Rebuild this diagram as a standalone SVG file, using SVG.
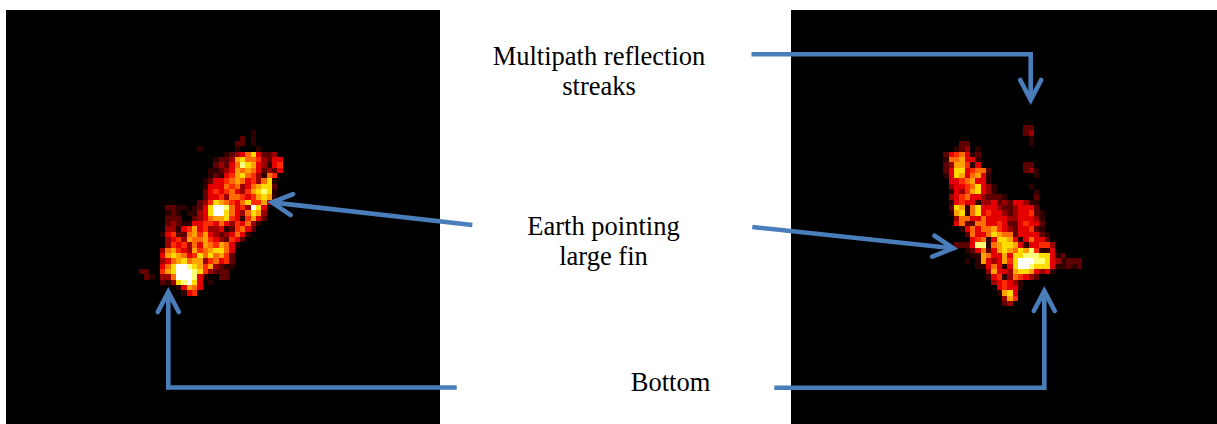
<svg xmlns="http://www.w3.org/2000/svg" width="1217" height="424" viewBox="0 0 1217 424">
<style>
.lbl{font-family:"Liberation Serif","Times New Roman",serif;font-size:26.5px;fill:#000;text-anchor:middle}
.conn{fill:none;stroke:#4a7ebb;stroke-width:4.6;stroke-linejoin:miter}
.hm rect{shape-rendering:crispEdges}
.a{fill:#2e0000}.b{fill:#5e0000}.c{fill:#9a0000}.d{fill:#e40000}.e{fill:#ff2c00}.f{fill:#ff6c00}.g{fill:#ffa200}.h{fill:#ffdc00}.i{fill:#ffff78}.w{fill:#ffffff}
</style>
<defs>
<marker id="open" markerUnits="userSpaceOnUse" refX="0" refY="0" orient="auto" overflow="visible" markerWidth="1" markerHeight="1">
<path d="M-20,-10.5 L0,0 L-20,10.5" fill="none" stroke="#4a7ebb" stroke-width="4.6" stroke-linecap="round" stroke-linejoin="miter"/>
</marker>
</defs>
<rect width="1217" height="424" fill="#fff"/>
<g id="image-left">
<rect x="6" y="10" width="434" height="414" fill="#000"/>
<g class="hm" transform="translate(122.67,125) scale(5.333)">
<rect x="24" y="1" width="1" height="1" class="a"/>
<rect x="22" y="2" width="1" height="1" class="b"/><rect x="24" y="2" width="1" height="1" class="a"/>
<rect x="21" y="3" width="2" height="1" class="b"/><rect x="24" y="3" width="1" height="1" class="a"/>
<rect x="14" y="4" width="1" height="1" class="a"/><rect x="21" y="4" width="1" height="1" class="a"/><rect x="25" y="4" width="1" height="1" class="a"/>
<rect x="19" y="5" width="1" height="1" class="a"/><rect x="20" y="5" width="1" height="1" class="b"/><rect x="21" y="5" width="1" height="1" class="c"/><rect x="22" y="5" width="1" height="1" class="d"/><rect x="23" y="5" width="1" height="1" class="f"/><rect x="24" y="5" width="1" height="1" class="h"/><rect x="25" y="5" width="1" height="1" class="d"/><rect x="26" y="5" width="2" height="1" class="b"/><rect x="28" y="5" width="1" height="1" class="c"/>
<rect x="17" y="6" width="1" height="1" class="a"/><rect x="18" y="6" width="2" height="1" class="b"/><rect x="20" y="6" width="1" height="1" class="c"/><rect x="21" y="6" width="1" height="1" class="g"/><rect x="22" y="6" width="1" height="1" class="h"/><rect x="23" y="6" width="2" height="1" class="f"/><rect x="25" y="6" width="1" height="1" class="e"/><rect x="26" y="6" width="1" height="1" class="c"/><rect x="27" y="6" width="1" height="1" class="b"/><rect x="28" y="6" width="2" height="1" class="d"/>
<rect x="17" y="7" width="1" height="1" class="b"/><rect x="18" y="7" width="1" height="1" class="c"/><rect x="19" y="7" width="1" height="1" class="b"/><rect x="20" y="7" width="1" height="1" class="d"/><rect x="21" y="7" width="1" height="1" class="f"/><rect x="22" y="7" width="1" height="1" class="i"/><rect x="23" y="7" width="1" height="1" class="h"/><rect x="24" y="7" width="1" height="1" class="g"/><rect x="25" y="7" width="1" height="1" class="d"/><rect x="26" y="7" width="1" height="1" class="c"/><rect x="27" y="7" width="1" height="1" class="a"/><rect x="28" y="7" width="1" height="1" class="d"/><rect x="29" y="7" width="1" height="1" class="e"/>
<rect x="16" y="8" width="2" height="1" class="a"/><rect x="18" y="8" width="1" height="1" class="b"/><rect x="19" y="8" width="1" height="1" class="c"/><rect x="20" y="8" width="1" height="1" class="d"/><rect x="21" y="8" width="1" height="1" class="g"/><rect x="22" y="8" width="1" height="1" class="f"/><rect x="23" y="8" width="1" height="1" class="g"/><rect x="24" y="8" width="1" height="1" class="f"/><rect x="25" y="8" width="1" height="1" class="d"/><rect x="26" y="8" width="1" height="1" class="b"/><rect x="27" y="8" width="1" height="1" class="c"/><rect x="28" y="8" width="1" height="1" class="b"/><rect x="29" y="8" width="1" height="1" class="d"/>
<rect x="16" y="9" width="1" height="1" class="a"/><rect x="17" y="9" width="1" height="1" class="b"/><rect x="18" y="9" width="1" height="1" class="a"/><rect x="19" y="9" width="1" height="1" class="d"/><rect x="20" y="9" width="1" height="1" class="e"/><rect x="21" y="9" width="1" height="1" class="g"/><rect x="22" y="9" width="1" height="1" class="h"/><rect x="23" y="9" width="1" height="1" class="f"/><rect x="24" y="9" width="1" height="1" class="e"/><rect x="25" y="9" width="1" height="1" class="c"/><rect x="26" y="9" width="1" height="1" class="a"/><rect x="27" y="9" width="1" height="1" class="f"/><rect x="28" y="9" width="1" height="1" class="e"/>
<rect x="15" y="10" width="1" height="1" class="a"/><rect x="16" y="10" width="1" height="1" class="b"/><rect x="17" y="10" width="2" height="1" class="d"/><rect x="19" y="10" width="1" height="1" class="e"/><rect x="20" y="10" width="1" height="1" class="f"/><rect x="21" y="10" width="1" height="1" class="g"/><rect x="22" y="10" width="1" height="1" class="f"/><rect x="23" y="10" width="1" height="1" class="d"/><rect x="24" y="10" width="1" height="1" class="e"/><rect x="25" y="10" width="1" height="1" class="c"/><rect x="26" y="10" width="1" height="1" class="f"/><rect x="27" y="10" width="1" height="1" class="h"/><rect x="28" y="10" width="1" height="1" class="a"/>
<rect x="15" y="11" width="1" height="1" class="a"/><rect x="16" y="11" width="3" height="1" class="d"/><rect x="19" y="11" width="1" height="1" class="f"/><rect x="20" y="11" width="1" height="1" class="e"/><rect x="21" y="11" width="1" height="1" class="f"/><rect x="22" y="11" width="1" height="1" class="c"/><rect x="23" y="11" width="1" height="1" class="d"/><rect x="24" y="11" width="1" height="1" class="f"/><rect x="25" y="11" width="1" height="1" class="g"/><rect x="26" y="11" width="2" height="1" class="h"/><rect x="28" y="11" width="1" height="1" class="b"/>
<rect x="15" y="12" width="1" height="1" class="b"/><rect x="16" y="12" width="1" height="1" class="d"/><rect x="17" y="12" width="1" height="1" class="e"/><rect x="18" y="12" width="1" height="1" class="d"/><rect x="19" y="12" width="1" height="1" class="e"/><rect x="20" y="12" width="1" height="1" class="f"/><rect x="21" y="12" width="1" height="1" class="d"/><rect x="22" y="12" width="1" height="1" class="c"/><rect x="23" y="12" width="1" height="1" class="e"/><rect x="24" y="12" width="1" height="1" class="g"/><rect x="25" y="12" width="1" height="1" class="h"/><rect x="26" y="12" width="1" height="1" class="i"/><rect x="27" y="12" width="1" height="1" class="h"/><rect x="28" y="12" width="1" height="1" class="a"/>
<rect x="15" y="13" width="1" height="1" class="b"/><rect x="16" y="13" width="2" height="1" class="d"/><rect x="18" y="13" width="1" height="1" class="e"/><rect x="19" y="13" width="1" height="1" class="c"/><rect x="20" y="13" width="2" height="1" class="f"/><rect x="22" y="13" width="1" height="1" class="e"/><rect x="23" y="13" width="1" height="1" class="d"/><rect x="24" y="13" width="1" height="1" class="e"/><rect x="25" y="13" width="1" height="1" class="g"/><rect x="26" y="13" width="1" height="1" class="h"/><rect x="27" y="13" width="1" height="1" class="g"/><rect x="28" y="13" width="1" height="1" class="a"/>
<rect x="14" y="14" width="1" height="1" class="b"/><rect x="15" y="14" width="1" height="1" class="c"/><rect x="16" y="14" width="1" height="1" class="e"/><rect x="17" y="14" width="1" height="1" class="h"/><rect x="18" y="14" width="1" height="1" class="g"/><rect x="19" y="14" width="1" height="1" class="f"/><rect x="20" y="14" width="1" height="1" class="e"/><rect x="21" y="14" width="1" height="1" class="d"/><rect x="22" y="14" width="1" height="1" class="f"/><rect x="23" y="14" width="1" height="1" class="h"/><rect x="24" y="14" width="2" height="1" class="e"/><rect x="26" y="14" width="1" height="1" class="g"/><rect x="27" y="14" width="1" height="1" class="c"/>
<rect x="8" y="15" width="2" height="1" class="b"/><rect x="10" y="15" width="2" height="1" class="a"/><rect x="13" y="15" width="1" height="1" class="a"/><rect x="14" y="15" width="1" height="1" class="b"/><rect x="15" y="15" width="1" height="1" class="d"/><rect x="16" y="15" width="1" height="1" class="h"/><rect x="17" y="15" width="2" height="1" class="w"/><rect x="19" y="15" width="1" height="1" class="i"/><rect x="20" y="15" width="1" height="1" class="f"/><rect x="21" y="15" width="1" height="1" class="d"/><rect x="22" y="15" width="1" height="1" class="e"/><rect x="23" y="15" width="1" height="1" class="c"/><rect x="24" y="15" width="1" height="1" class="w"/><rect x="25" y="15" width="1" height="1" class="h"/><rect x="26" y="15" width="1" height="1" class="d"/>
<rect x="8" y="16" width="1" height="1" class="a"/><rect x="9" y="16" width="1" height="1" class="b"/><rect x="10" y="16" width="1" height="1" class="a"/><rect x="12" y="16" width="2" height="1" class="a"/><rect x="14" y="16" width="1" height="1" class="c"/><rect x="15" y="16" width="1" height="1" class="d"/><rect x="16" y="16" width="1" height="1" class="h"/><rect x="17" y="16" width="2" height="1" class="w"/><rect x="19" y="16" width="1" height="1" class="h"/><rect x="20" y="16" width="1" height="1" class="f"/><rect x="21" y="16" width="1" height="1" class="d"/><rect x="22" y="16" width="1" height="1" class="c"/><rect x="23" y="16" width="1" height="1" class="f"/><rect x="24" y="16" width="1" height="1" class="h"/><rect x="25" y="16" width="1" height="1" class="g"/><rect x="26" y="16" width="1" height="1" class="c"/>
<rect x="8" y="17" width="3" height="1" class="b"/><rect x="13" y="17" width="1" height="1" class="b"/><rect x="14" y="17" width="1" height="1" class="c"/><rect x="15" y="17" width="1" height="1" class="d"/><rect x="16" y="17" width="1" height="1" class="f"/><rect x="17" y="17" width="2" height="1" class="g"/><rect x="19" y="17" width="1" height="1" class="h"/><rect x="20" y="17" width="1" height="1" class="e"/><rect x="21" y="17" width="1" height="1" class="d"/><rect x="22" y="17" width="1" height="1" class="a"/><rect x="23" y="17" width="1" height="1" class="e"/><rect x="24" y="17" width="1" height="1" class="g"/><rect x="25" y="17" width="1" height="1" class="d"/><rect x="26" y="17" width="1" height="1" class="b"/>
<rect x="8" y="18" width="1" height="1" class="b"/><rect x="9" y="18" width="1" height="1" class="c"/><rect x="10" y="18" width="1" height="1" class="b"/><rect x="11" y="18" width="2" height="1" class="a"/><rect x="13" y="18" width="2" height="1" class="d"/><rect x="15" y="18" width="2" height="1" class="e"/><rect x="17" y="18" width="1" height="1" class="d"/><rect x="18" y="18" width="1" height="1" class="f"/><rect x="19" y="18" width="1" height="1" class="d"/><rect x="20" y="18" width="1" height="1" class="c"/><rect x="21" y="18" width="1" height="1" class="e"/><rect x="22" y="18" width="1" height="1" class="d"/><rect x="23" y="18" width="1" height="1" class="f"/><rect x="24" y="18" width="1" height="1" class="c"/><rect x="25" y="18" width="1" height="1" class="a"/>
<rect x="8" y="19" width="2" height="1" class="c"/><rect x="10" y="19" width="1" height="1" class="a"/><rect x="11" y="19" width="1" height="1" class="d"/><rect x="12" y="19" width="1" height="1" class="e"/><rect x="13" y="19" width="1" height="1" class="g"/><rect x="14" y="19" width="1" height="1" class="d"/><rect x="15" y="19" width="1" height="1" class="e"/><rect x="16" y="19" width="2" height="1" class="c"/><rect x="18" y="19" width="1" height="1" class="d"/><rect x="19" y="19" width="1" height="1" class="a"/><rect x="20" y="19" width="1" height="1" class="b"/><rect x="21" y="19" width="1" height="1" class="e"/><rect x="22" y="19" width="1" height="1" class="f"/><rect x="23" y="19" width="1" height="1" class="d"/><rect x="24" y="19" width="1" height="1" class="b"/>
<rect x="7" y="20" width="1" height="1" class="a"/><rect x="8" y="20" width="1" height="1" class="d"/><rect x="9" y="20" width="1" height="1" class="e"/><rect x="10" y="20" width="2" height="1" class="b"/><rect x="12" y="20" width="1" height="1" class="f"/><rect x="13" y="20" width="1" height="1" class="g"/><rect x="14" y="20" width="1" height="1" class="e"/><rect x="15" y="20" width="1" height="1" class="g"/><rect x="16" y="20" width="1" height="1" class="d"/><rect x="17" y="20" width="1" height="1" class="c"/><rect x="18" y="20" width="1" height="1" class="b"/><rect x="19" y="20" width="1" height="1" class="c"/><rect x="20" y="20" width="1" height="1" class="d"/><rect x="21" y="20" width="1" height="1" class="f"/><rect x="22" y="20" width="1" height="1" class="d"/><rect x="23" y="20" width="1" height="1" class="a"/>
<rect x="8" y="21" width="1" height="1" class="c"/><rect x="9" y="21" width="1" height="1" class="d"/><rect x="10" y="21" width="1" height="1" class="e"/><rect x="11" y="21" width="1" height="1" class="c"/><rect x="12" y="21" width="1" height="1" class="g"/><rect x="13" y="21" width="2" height="1" class="f"/><rect x="15" y="21" width="1" height="1" class="g"/><rect x="16" y="21" width="1" height="1" class="e"/><rect x="17" y="21" width="1" height="1" class="d"/><rect x="18" y="21" width="1" height="1" class="c"/><rect x="19" y="21" width="1" height="1" class="b"/><rect x="20" y="21" width="1" height="1" class="e"/><rect x="21" y="21" width="1" height="1" class="d"/><rect x="22" y="21" width="1" height="1" class="b"/>
<rect x="8" y="22" width="1" height="1" class="c"/><rect x="9" y="22" width="1" height="1" class="e"/><rect x="10" y="22" width="1" height="1" class="d"/><rect x="11" y="22" width="1" height="1" class="e"/><rect x="12" y="22" width="1" height="1" class="c"/><rect x="13" y="22" width="1" height="1" class="f"/><rect x="14" y="22" width="1" height="1" class="d"/><rect x="15" y="22" width="1" height="1" class="g"/><rect x="16" y="22" width="1" height="1" class="f"/><rect x="17" y="22" width="1" height="1" class="e"/><rect x="18" y="22" width="1" height="1" class="g"/><rect x="19" y="22" width="1" height="1" class="f"/><rect x="20" y="22" width="1" height="1" class="d"/><rect x="21" y="22" width="1" height="1" class="a"/>
<rect x="7" y="23" width="1" height="1" class="c"/><rect x="8" y="23" width="1" height="1" class="f"/><rect x="9" y="23" width="1" height="1" class="g"/><rect x="10" y="23" width="1" height="1" class="e"/><rect x="11" y="23" width="1" height="1" class="d"/><rect x="12" y="23" width="1" height="1" class="c"/><rect x="13" y="23" width="1" height="1" class="g"/><rect x="14" y="23" width="1" height="1" class="e"/><rect x="15" y="23" width="1" height="1" class="f"/><rect x="16" y="23" width="1" height="1" class="g"/><rect x="17" y="23" width="2" height="1" class="h"/><rect x="19" y="23" width="1" height="1" class="f"/><rect x="20" y="23" width="1" height="1" class="d"/>
<rect x="7" y="24" width="1" height="1" class="d"/><rect x="8" y="24" width="1" height="1" class="g"/><rect x="9" y="24" width="1" height="1" class="h"/><rect x="10" y="24" width="1" height="1" class="g"/><rect x="11" y="24" width="1" height="1" class="f"/><rect x="12" y="24" width="1" height="1" class="d"/><rect x="13" y="24" width="1" height="1" class="e"/><rect x="14" y="24" width="1" height="1" class="h"/><rect x="15" y="24" width="1" height="1" class="f"/><rect x="16" y="24" width="1" height="1" class="h"/><rect x="17" y="24" width="1" height="1" class="f"/><rect x="18" y="24" width="1" height="1" class="g"/><rect x="19" y="24" width="1" height="1" class="e"/><rect x="20" y="24" width="1" height="1" class="b"/>
<rect x="7" y="25" width="1" height="1" class="c"/><rect x="8" y="25" width="1" height="1" class="d"/><rect x="9" y="25" width="1" height="1" class="f"/><rect x="10" y="25" width="1" height="1" class="g"/><rect x="11" y="25" width="1" height="1" class="h"/><rect x="12" y="25" width="1" height="1" class="f"/><rect x="13" y="25" width="2" height="1" class="g"/><rect x="15" y="25" width="1" height="1" class="c"/><rect x="16" y="25" width="1" height="1" class="e"/><rect x="17" y="25" width="1" height="1" class="f"/><rect x="18" y="25" width="1" height="1" class="d"/><rect x="19" y="25" width="1" height="1" class="e"/><rect x="20" y="25" width="1" height="1" class="b"/>
<rect x="7" y="26" width="1" height="1" class="d"/><rect x="8" y="26" width="1" height="1" class="f"/><rect x="9" y="26" width="1" height="1" class="h"/><rect x="10" y="26" width="2" height="1" class="w"/><rect x="12" y="26" width="1" height="1" class="i"/><rect x="13" y="26" width="1" height="1" class="h"/><rect x="14" y="26" width="1" height="1" class="g"/><rect x="15" y="26" width="1" height="1" class="e"/><rect x="16" y="26" width="1" height="1" class="g"/><rect x="17" y="26" width="1" height="1" class="c"/><rect x="18" y="26" width="1" height="1" class="b"/><rect x="19" y="26" width="2" height="1" class="a"/>
<rect x="3" y="27" width="2" height="1" class="b"/><rect x="7" y="27" width="1" height="1" class="e"/><rect x="8" y="27" width="1" height="1" class="g"/><rect x="9" y="27" width="1" height="1" class="h"/><rect x="10" y="27" width="3" height="1" class="w"/><rect x="13" y="27" width="1" height="1" class="i"/><rect x="14" y="27" width="1" height="1" class="h"/><rect x="15" y="27" width="1" height="1" class="e"/><rect x="16" y="27" width="1" height="1" class="c"/><rect x="17" y="27" width="3" height="1" class="b"/>
<rect x="4" y="28" width="1" height="1" class="b"/><rect x="5" y="28" width="1" height="1" class="a"/><rect x="7" y="28" width="2" height="1" class="c"/><rect x="9" y="28" width="1" height="1" class="f"/><rect x="10" y="28" width="3" height="1" class="w"/><rect x="13" y="28" width="1" height="1" class="i"/><rect x="14" y="28" width="1" height="1" class="d"/><rect x="15" y="28" width="1" height="1" class="a"/><rect x="18" y="28" width="2" height="1" class="b"/>
<rect x="7" y="29" width="1" height="1" class="b"/><rect x="8" y="29" width="1" height="1" class="a"/><rect x="9" y="29" width="1" height="1" class="c"/><rect x="10" y="29" width="1" height="1" class="h"/><rect x="11" y="29" width="1" height="1" class="i"/><rect x="12" y="29" width="1" height="1" class="w"/><rect x="13" y="29" width="1" height="1" class="h"/><rect x="14" y="29" width="1" height="1" class="d"/><rect x="16" y="29" width="1" height="1" class="a"/>
<rect x="10" y="30" width="1" height="1" class="a"/><rect x="11" y="30" width="1" height="1" class="d"/><rect x="12" y="30" width="1" height="1" class="g"/><rect x="13" y="30" width="1" height="1" class="f"/><rect x="14" y="30" width="1" height="1" class="d"/>
<rect x="11" y="31" width="1" height="1" class="a"/><rect x="12" y="31" width="1" height="1" class="d"/><rect x="13" y="31" width="1" height="1" class="e"/>
</g>
</g>
<g id="image-right">
<rect x="791" y="10" width="426" height="414" fill="#000"/>
<g class="hm" transform="translate(943.33,125) scale(5.333)">
<rect x="15" y="0" width="2" height="1" class="b"/>
<rect x="15" y="1" width="1" height="1" class="b"/><rect x="16" y="1" width="1" height="1" class="c"/>
<rect x="16" y="2" width="1" height="1" class="a"/>
<rect x="3" y="3" width="2" height="1" class="b"/><rect x="16" y="3" width="1" height="1" class="a"/>
<rect x="2" y="4" width="1" height="1" class="a"/><rect x="3" y="4" width="1" height="1" class="b"/><rect x="4" y="4" width="1" height="1" class="c"/><rect x="6" y="4" width="1" height="1" class="a"/>
<rect x="0" y="5" width="1" height="1" class="b"/><rect x="1" y="5" width="1" height="1" class="d"/><rect x="2" y="5" width="1" height="1" class="e"/><rect x="3" y="5" width="1" height="1" class="f"/><rect x="4" y="5" width="1" height="1" class="d"/><rect x="5" y="5" width="1" height="1" class="a"/><rect x="6" y="5" width="1" height="1" class="b"/>
<rect x="0" y="6" width="1" height="1" class="a"/><rect x="1" y="6" width="2" height="1" class="f"/><rect x="3" y="6" width="1" height="1" class="g"/><rect x="4" y="6" width="2" height="1" class="d"/><rect x="6" y="6" width="1" height="1" class="a"/>
<rect x="0" y="7" width="1" height="1" class="b"/><rect x="1" y="7" width="1" height="1" class="c"/><rect x="2" y="7" width="2" height="1" class="g"/><rect x="4" y="7" width="1" height="1" class="e"/><rect x="5" y="7" width="1" height="1" class="a"/><rect x="6" y="7" width="1" height="1" class="d"/><rect x="15" y="7" width="2" height="1" class="b"/>
<rect x="0" y="8" width="1" height="1" class="b"/><rect x="1" y="8" width="1" height="1" class="d"/><rect x="2" y="8" width="2" height="1" class="h"/><rect x="4" y="8" width="1" height="1" class="d"/><rect x="5" y="8" width="1" height="1" class="e"/><rect x="6" y="8" width="2" height="1" class="f"/><rect x="8" y="8" width="1" height="1" class="b"/><rect x="15" y="8" width="1" height="1" class="b"/><rect x="16" y="8" width="1" height="1" class="c"/><rect x="17" y="8" width="1" height="1" class="a"/>
<rect x="0" y="9" width="1" height="1" class="a"/><rect x="1" y="9" width="1" height="1" class="d"/><rect x="2" y="9" width="1" height="1" class="h"/><rect x="3" y="9" width="1" height="1" class="g"/><rect x="4" y="9" width="1" height="1" class="d"/><rect x="5" y="9" width="1" height="1" class="f"/><rect x="6" y="9" width="1" height="1" class="g"/><rect x="7" y="9" width="1" height="1" class="d"/><rect x="8" y="9" width="1" height="1" class="a"/><rect x="17" y="9" width="1" height="1" class="a"/>
<rect x="1" y="10" width="2" height="1" class="d"/><rect x="3" y="10" width="1" height="1" class="e"/><rect x="4" y="10" width="1" height="1" class="f"/><rect x="5" y="10" width="1" height="1" class="g"/><rect x="6" y="10" width="2" height="1" class="d"/><rect x="8" y="10" width="1" height="1" class="a"/>
<rect x="1" y="11" width="1" height="1" class="c"/><rect x="2" y="11" width="2" height="1" class="d"/><rect x="4" y="11" width="1" height="1" class="e"/><rect x="5" y="11" width="1" height="1" class="f"/><rect x="6" y="11" width="1" height="1" class="h"/><rect x="7" y="11" width="1" height="1" class="d"/><rect x="8" y="11" width="1" height="1" class="c"/><rect x="9" y="11" width="1" height="1" class="a"/><rect x="16" y="11" width="1" height="1" class="a"/>
<rect x="1" y="12" width="1" height="1" class="a"/><rect x="2" y="12" width="1" height="1" class="d"/><rect x="3" y="12" width="1" height="1" class="c"/><rect x="4" y="12" width="1" height="1" class="e"/><rect x="5" y="12" width="1" height="1" class="g"/><rect x="6" y="12" width="1" height="1" class="h"/><rect x="7" y="12" width="1" height="1" class="d"/><rect x="8" y="12" width="1" height="1" class="c"/><rect x="9" y="12" width="1" height="1" class="a"/><rect x="17" y="12" width="1" height="1" class="a"/>
<rect x="1" y="13" width="1" height="1" class="c"/><rect x="2" y="13" width="1" height="1" class="d"/><rect x="3" y="13" width="1" height="1" class="e"/><rect x="4" y="13" width="1" height="1" class="f"/><rect x="5" y="13" width="2" height="1" class="d"/><rect x="7" y="13" width="1" height="1" class="c"/><rect x="8" y="13" width="3" height="1" class="b"/><rect x="11" y="13" width="1" height="1" class="a"/><rect x="17" y="13" width="1" height="1" class="b"/>
<rect x="1" y="14" width="1" height="1" class="a"/><rect x="2" y="14" width="1" height="1" class="d"/><rect x="3" y="14" width="1" height="1" class="e"/><rect x="4" y="14" width="2" height="1" class="d"/><rect x="6" y="14" width="1" height="1" class="a"/><rect x="7" y="14" width="2" height="1" class="c"/><rect x="9" y="14" width="1" height="1" class="d"/><rect x="10" y="14" width="1" height="1" class="b"/><rect x="11" y="14" width="1" height="1" class="c"/><rect x="12" y="14" width="1" height="1" class="b"/><rect x="13" y="14" width="2" height="1" class="d"/><rect x="15" y="14" width="1" height="1" class="c"/><rect x="16" y="14" width="2" height="1" class="a"/>
<rect x="1" y="15" width="1" height="1" class="b"/><rect x="2" y="15" width="1" height="1" class="h"/><rect x="3" y="15" width="1" height="1" class="g"/><rect x="4" y="15" width="1" height="1" class="a"/><rect x="5" y="15" width="1" height="1" class="f"/><rect x="6" y="15" width="1" height="1" class="h"/><rect x="7" y="15" width="3" height="1" class="d"/><rect x="10" y="15" width="1" height="1" class="c"/><rect x="11" y="15" width="2" height="1" class="b"/><rect x="13" y="15" width="1" height="1" class="c"/><rect x="14" y="15" width="3" height="1" class="d"/><rect x="17" y="15" width="1" height="1" class="b"/>
<rect x="1" y="16" width="1" height="1" class="a"/><rect x="2" y="16" width="1" height="1" class="g"/><rect x="3" y="16" width="1" height="1" class="h"/><rect x="4" y="16" width="1" height="1" class="a"/><rect x="5" y="16" width="1" height="1" class="f"/><rect x="6" y="16" width="1" height="1" class="h"/><rect x="7" y="16" width="1" height="1" class="d"/><rect x="8" y="16" width="1" height="1" class="e"/><rect x="9" y="16" width="2" height="1" class="d"/><rect x="11" y="16" width="1" height="1" class="c"/><rect x="12" y="16" width="1" height="1" class="b"/><rect x="13" y="16" width="1" height="1" class="c"/><rect x="14" y="16" width="2" height="1" class="d"/><rect x="16" y="16" width="1" height="1" class="e"/><rect x="17" y="16" width="1" height="1" class="b"/><rect x="18" y="16" width="1" height="1" class="a"/>
<rect x="2" y="17" width="1" height="1" class="c"/><rect x="3" y="17" width="2" height="1" class="f"/><rect x="5" y="17" width="2" height="1" class="d"/><rect x="7" y="17" width="1" height="1" class="f"/><rect x="8" y="17" width="4" height="1" class="d"/><rect x="12" y="17" width="2" height="1" class="c"/><rect x="14" y="17" width="3" height="1" class="d"/><rect x="17" y="17" width="1" height="1" class="c"/><rect x="18" y="17" width="1" height="1" class="a"/>
<rect x="2" y="18" width="1" height="1" class="d"/><rect x="3" y="18" width="1" height="1" class="f"/><rect x="4" y="18" width="2" height="1" class="b"/><rect x="6" y="18" width="2" height="1" class="f"/><rect x="8" y="18" width="2" height="1" class="d"/><rect x="10" y="18" width="1" height="1" class="e"/><rect x="11" y="18" width="1" height="1" class="d"/><rect x="12" y="18" width="2" height="1" class="b"/><rect x="14" y="18" width="1" height="1" class="d"/><rect x="15" y="18" width="1" height="1" class="e"/><rect x="16" y="18" width="2" height="1" class="d"/><rect x="18" y="18" width="1" height="1" class="b"/>
<rect x="3" y="19" width="1" height="1" class="a"/><rect x="4" y="19" width="1" height="1" class="d"/><rect x="5" y="19" width="1" height="1" class="f"/><rect x="6" y="19" width="1" height="1" class="d"/><rect x="7" y="19" width="2" height="1" class="f"/><rect x="9" y="19" width="1" height="1" class="g"/><rect x="10" y="19" width="1" height="1" class="e"/><rect x="11" y="19" width="1" height="1" class="d"/><rect x="12" y="19" width="1" height="1" class="c"/><rect x="13" y="19" width="1" height="1" class="b"/><rect x="14" y="19" width="2" height="1" class="d"/><rect x="16" y="19" width="1" height="1" class="e"/><rect x="17" y="19" width="1" height="1" class="b"/><rect x="18" y="19" width="1" height="1" class="a"/>
<rect x="4" y="20" width="1" height="1" class="b"/><rect x="5" y="20" width="1" height="1" class="f"/><rect x="6" y="20" width="2" height="1" class="d"/><rect x="8" y="20" width="1" height="1" class="f"/><rect x="9" y="20" width="1" height="1" class="h"/><rect x="10" y="20" width="1" height="1" class="g"/><rect x="11" y="20" width="2" height="1" class="f"/><rect x="13" y="20" width="1" height="1" class="b"/><rect x="14" y="20" width="4" height="1" class="d"/><rect x="18" y="20" width="1" height="1" class="b"/><rect x="19" y="20" width="1" height="1" class="a"/>
<rect x="5" y="21" width="1" height="1" class="d"/><rect x="6" y="21" width="1" height="1" class="e"/><rect x="7" y="21" width="1" height="1" class="f"/><rect x="8" y="21" width="1" height="1" class="a"/><rect x="9" y="21" width="1" height="1" class="d"/><rect x="10" y="21" width="2" height="1" class="h"/><rect x="12" y="21" width="1" height="1" class="g"/><rect x="13" y="21" width="1" height="1" class="d"/><rect x="14" y="21" width="1" height="1" class="a"/><rect x="15" y="21" width="1" height="1" class="d"/><rect x="16" y="21" width="1" height="1" class="f"/><rect x="17" y="21" width="2" height="1" class="d"/><rect x="19" y="21" width="1" height="1" class="b"/>
<rect x="2" y="22" width="3" height="1" class="b"/><rect x="5" y="22" width="1" height="1" class="d"/><rect x="6" y="22" width="2" height="1" class="i"/><rect x="8" y="22" width="1" height="1" class="a"/><rect x="9" y="22" width="1" height="1" class="f"/><rect x="10" y="22" width="1" height="1" class="g"/><rect x="11" y="22" width="2" height="1" class="h"/><rect x="13" y="22" width="1" height="1" class="g"/><rect x="14" y="22" width="1" height="1" class="d"/><rect x="15" y="22" width="1" height="1" class="a"/><rect x="16" y="22" width="2" height="1" class="d"/><rect x="18" y="22" width="2" height="1" class="e"/><rect x="20" y="22" width="1" height="1" class="c"/>
<rect x="4" y="23" width="1" height="1" class="a"/><rect x="5" y="23" width="1" height="1" class="b"/><rect x="6" y="23" width="1" height="1" class="d"/><rect x="7" y="23" width="1" height="1" class="f"/><rect x="8" y="23" width="1" height="1" class="b"/><rect x="9" y="23" width="1" height="1" class="d"/><rect x="10" y="23" width="1" height="1" class="g"/><rect x="11" y="23" width="1" height="1" class="h"/><rect x="12" y="23" width="1" height="1" class="g"/><rect x="13" y="23" width="1" height="1" class="f"/><rect x="14" y="23" width="1" height="1" class="h"/><rect x="15" y="23" width="1" height="1" class="g"/><rect x="16" y="23" width="1" height="1" class="i"/><rect x="17" y="23" width="1" height="1" class="e"/><rect x="18" y="23" width="2" height="1" class="a"/><rect x="20" y="23" width="1" height="1" class="d"/>
<rect x="5" y="24" width="2" height="1" class="a"/><rect x="7" y="24" width="1" height="1" class="g"/><rect x="8" y="24" width="1" height="1" class="f"/><rect x="9" y="24" width="2" height="1" class="d"/><rect x="11" y="24" width="1" height="1" class="g"/><rect x="12" y="24" width="1" height="1" class="d"/><rect x="13" y="24" width="2" height="1" class="h"/><rect x="15" y="24" width="3" height="1" class="i"/><rect x="18" y="24" width="2" height="1" class="h"/><rect x="20" y="24" width="1" height="1" class="d"/><rect x="21" y="24" width="1" height="1" class="a"/><rect x="22" y="24" width="1" height="1" class="b"/>
<rect x="4" y="25" width="1" height="1" class="a"/><rect x="6" y="25" width="1" height="1" class="a"/><rect x="7" y="25" width="1" height="1" class="g"/><rect x="8" y="25" width="1" height="1" class="d"/><rect x="9" y="25" width="1" height="1" class="c"/><rect x="10" y="25" width="1" height="1" class="d"/><rect x="11" y="25" width="1" height="1" class="g"/><rect x="12" y="25" width="1" height="1" class="e"/><rect x="13" y="25" width="1" height="1" class="h"/><rect x="14" y="25" width="3" height="1" class="w"/><rect x="17" y="25" width="2" height="1" class="i"/><rect x="19" y="25" width="1" height="1" class="h"/><rect x="20" y="25" width="1" height="1" class="d"/><rect x="21" y="25" width="1" height="1" class="c"/><rect x="22" y="25" width="1" height="1" class="a"/><rect x="23" y="25" width="3" height="1" class="b"/>
<rect x="6" y="26" width="2" height="1" class="a"/><rect x="8" y="26" width="1" height="1" class="d"/><rect x="9" y="26" width="1" height="1" class="f"/><rect x="10" y="26" width="1" height="1" class="d"/><rect x="11" y="26" width="1" height="1" class="a"/><rect x="12" y="26" width="1" height="1" class="d"/><rect x="13" y="26" width="1" height="1" class="h"/><rect x="14" y="26" width="2" height="1" class="w"/><rect x="16" y="26" width="1" height="1" class="i"/><rect x="17" y="26" width="3" height="1" class="h"/><rect x="20" y="26" width="1" height="1" class="d"/><rect x="21" y="26" width="2" height="1" class="a"/><rect x="23" y="26" width="1" height="1" class="b"/><rect x="24" y="26" width="1" height="1" class="a"/><rect x="25" y="26" width="1" height="1" class="b"/>
<rect x="8" y="27" width="1" height="1" class="c"/><rect x="9" y="27" width="1" height="1" class="g"/><rect x="10" y="27" width="2" height="1" class="d"/><rect x="12" y="27" width="1" height="1" class="c"/><rect x="13" y="27" width="1" height="1" class="g"/><rect x="14" y="27" width="2" height="1" class="h"/><rect x="16" y="27" width="1" height="1" class="g"/><rect x="17" y="27" width="1" height="1" class="d"/><rect x="18" y="27" width="1" height="1" class="c"/><rect x="19" y="27" width="1" height="1" class="d"/><rect x="20" y="27" width="1" height="1" class="a"/>
<rect x="8" y="28" width="1" height="1" class="a"/><rect x="9" y="28" width="1" height="1" class="d"/><rect x="10" y="28" width="1" height="1" class="e"/><rect x="11" y="28" width="1" height="1" class="a"/><rect x="12" y="28" width="1" height="1" class="c"/><rect x="13" y="28" width="1" height="1" class="f"/><rect x="14" y="28" width="1" height="1" class="e"/><rect x="15" y="28" width="1" height="1" class="d"/><rect x="16" y="28" width="1" height="1" class="c"/><rect x="17" y="28" width="1" height="1" class="b"/>
<rect x="9" y="29" width="1" height="1" class="c"/><rect x="10" y="29" width="1" height="1" class="d"/><rect x="11" y="29" width="1" height="1" class="e"/><rect x="12" y="29" width="1" height="1" class="d"/><rect x="13" y="29" width="1" height="1" class="c"/><rect x="14" y="29" width="1" height="1" class="a"/>
<rect x="10" y="30" width="1" height="1" class="d"/><rect x="11" y="30" width="1" height="1" class="e"/><rect x="12" y="30" width="2" height="1" class="d"/><rect x="14" y="30" width="1" height="1" class="a"/>
<rect x="10" y="31" width="1" height="1" class="a"/><rect x="11" y="31" width="1" height="1" class="g"/><rect x="12" y="31" width="1" height="1" class="h"/><rect x="13" y="31" width="1" height="1" class="d"/>
<rect x="11" y="32" width="1" height="1" class="c"/><rect x="12" y="32" width="1" height="1" class="g"/><rect x="13" y="32" width="1" height="1" class="e"/>
<rect x="11" y="33" width="1" height="1" class="b"/><rect x="12" y="33" width="1" height="1" class="c"/>
</g>
</g>
<g id="label-multipath">
<text class="lbl" x="599" y="65">Multipath reflection</text>
<text class="lbl" x="599" y="94.5">streaks</text>
</g>
<g id="label-earth">
<text class="lbl" x="603.5" y="235">Earth pointing</text>
<text class="lbl" x="603.5" y="264.5">large fin</text>
</g>
<g id="label-bottom">
<text class="lbl" x="670.5" y="390.5">Bottom</text>
</g>
<g id="connectors">
<path class="conn" d="M456.7,387.5 H168.3 V292" marker-end="url(#open)"/>
<path class="conn" d="M472.3,225 L272,202.4" marker-end="url(#open)"/>
<path class="conn" d="M751.5,54.3 H1030.7 V100" marker-end="url(#open)"/>
<path class="conn" d="M752.3,227 L953.3,248.3" marker-end="url(#open)"/>
<path class="conn" d="M774.3,387.7 H1044.3 V291" marker-end="url(#open)"/>
</g>
</svg>
